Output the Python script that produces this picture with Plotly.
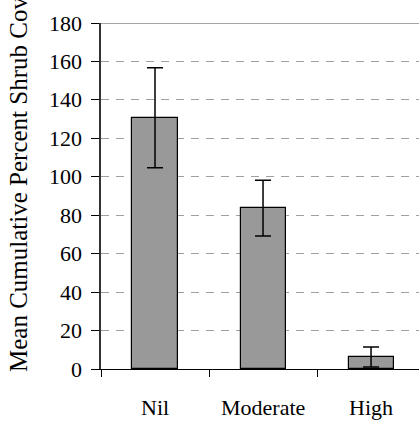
import plotly.graph_objects as go

categories = ["Nil", "Moderate", "High"]
means = [130.7, 83.7, 6.2]
errors = [26.0, 14.5, 5.2]
y_ticks = [0, 20, 40, 60, 80, 100, 120, 140, 160, 180]
y_tick_labels = [str(v) for v in y_ticks]

W, H = 419, 422
L, R, T, B = 101, 0, 23, 53
FONT = "Liberation Serif"
labfont = dict(family=FONT, size=22, color="#000000")

fig = go.Figure()
fig.add_trace(go.Bar(
    x=categories, y=means, width=0.417,
    marker=dict(color="#999999", line=dict(color="#000000", width=1.2)),
    error_y=dict(type="data", array=errors, visible=True, color="#000000",
                 thickness=1.5, width=8),
))

fig.add_shape(type="line", xref="paper", yref="y", x0=0, x1=1, y0=180, y1=180,
              line=dict(color="#888888", width=1.5))

# axis tick labels drawn as annotations placed through the axis scales
for v, lab in zip(y_ticks, y_tick_labels):
    fig.add_annotation(text=lab, xref="paper", x=0, yref="y", y=v,
                       xanchor="right", yanchor="middle", xshift=-17,
                       showarrow=False, font=labfont)
for c in categories:
    fig.add_annotation(text=c, xref="x", x=c, yref="paper", y=0,
                       xanchor="center", yanchor="top", yshift=-24,
                       showarrow=False, font=labfont)

fig.add_annotation(
    text="Mean Cumulative Percent Shrub Cover (%)", textangle=-90,
    xref="paper", yref="paper", x=(19 - L) / (W - L - R), y=-5 / (H - T - B),
    xanchor="center", yanchor="bottom", showarrow=False,
    font=dict(family=FONT, size=25, color="#000000"),
)

fig.update_layout(
    template="none",
    width=W, height=H,
    margin=dict(l=L, r=R, t=T, b=B, pad=0),
    paper_bgcolor="white", plot_bgcolor="white",
    showlegend=False,
    font=dict(family=FONT, size=22, color="#000000"),
    bargap=0,
)
fig.update_xaxes(
    type="category", range=[-0.5, 2.444], tickson="boundaries",
    ticks="outside", ticklen=7, tickcolor="#000000", tickwidth=1,
    showline=True, linecolor="#000000", linewidth=1, showgrid=False,
    showticklabels=False, fixedrange=True,
)
fig.update_yaxes(
    range=[0, 180], tickvals=y_ticks,
    ticks="outside", ticklen=8, tickcolor="#000000", tickwidth=1,
    showline=True, linecolor="#333333", linewidth=1.5,
    showgrid=True, gridcolor="#a0a0a0", gridwidth=1, griddash="8px,7px",
    zeroline=False, showticklabels=False,
)

fig.write_html("out.html")
